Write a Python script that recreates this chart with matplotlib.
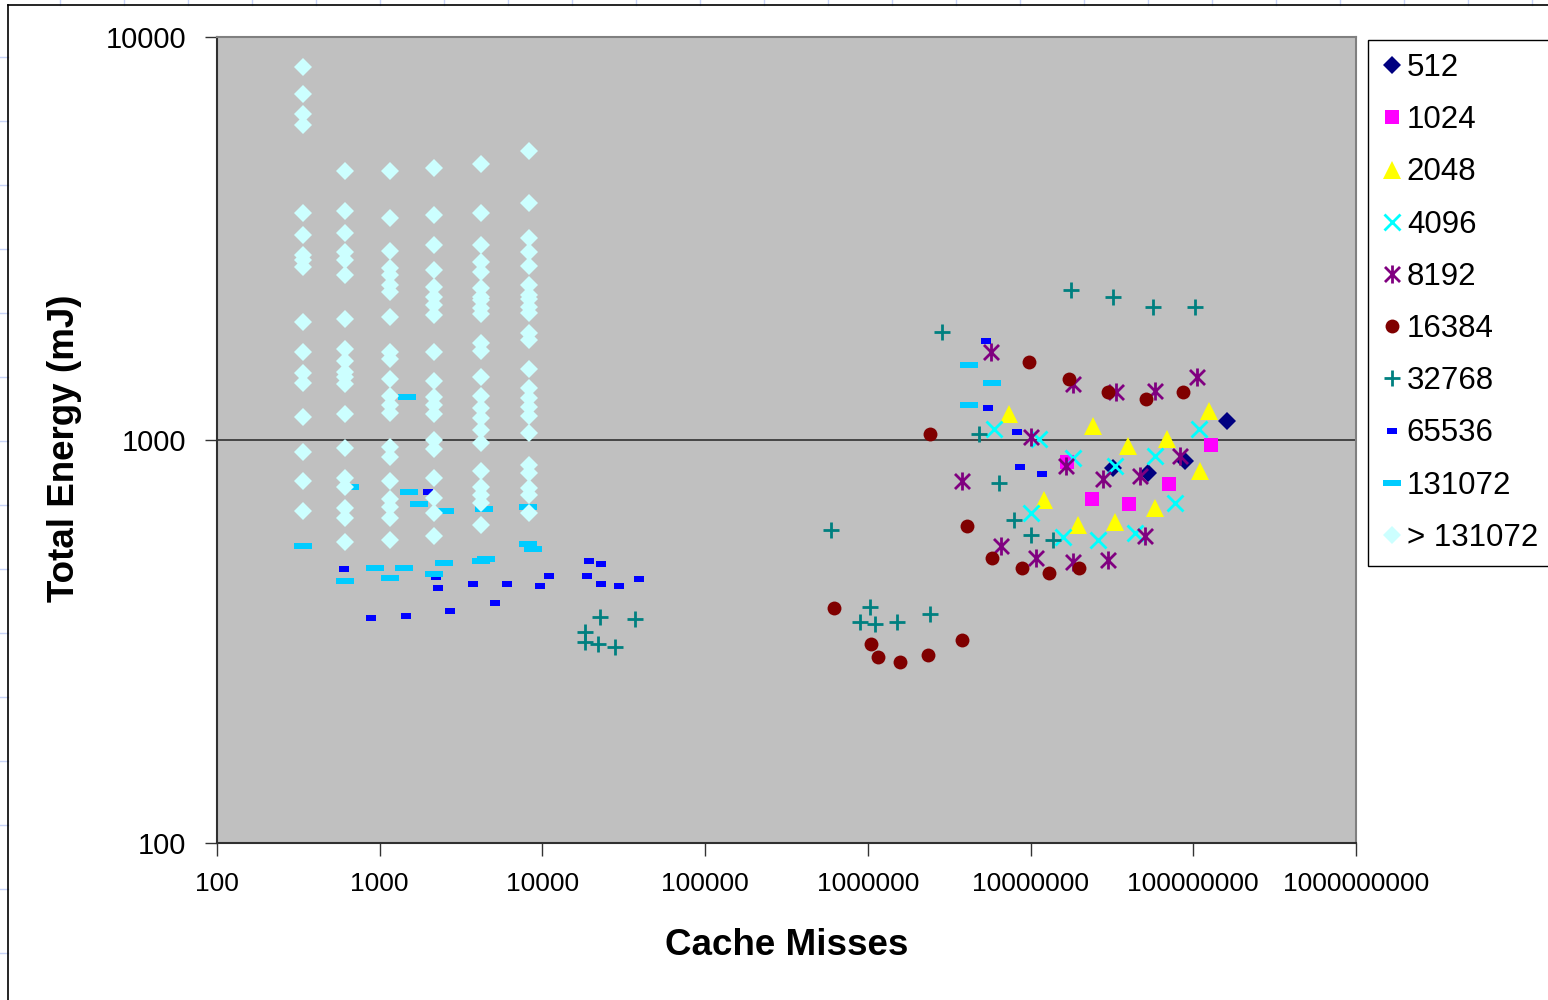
import matplotlib
matplotlib.use('Agg')
import matplotlib.pyplot as plt
from matplotlib.path import Path
from matplotlib.lines import Line2D
from matplotlib.ticker import FixedLocator, FixedFormatter, NullLocator

plt.rcParams['font.family'] = ['Liberation Sans', 'DejaVu Sans']

# ---- data (cache misses, total energy in mJ) ----
x_512 = [3.21e7, 5.27e7, 8.9e7, 1.61e8]
y_512 = [852, 828, 887, 1115]

x_1024 = [1.68e7, 2.39e7, 4.03e7, 7.1e7, 1.29e8]
y_1024 = [881, 714, 694, 777, 972]

x_2048 = [7.38e6, 2.42e7, 3.97e7, 6.9e7, 1.25e8, 1.10e8, 1.21e7, 1.96e7, 3.3e7, 5.82e7]
y_2048 = [1160, 1083, 967, 1005, 1180, 837, 710, 615, 626, 678]

x_4096 = [5.97e6, 1.13e7, 1.82e7, 3.3e7, 5.82e7, 1.09e8, 1.01e7, 1.59e7, 2.6e7, 4.39e7, 7.73e7]
y_4096 = [1065, 1005, 902, 861, 912, 1065, 659, 574, 565, 588, 698]

x_8192 = [5.72e6, 1.82e7, 3.36e7, 5.82e7, 1.06e8, 1.01e7, 1.65e7, 2.79e7, 4.71e7, 8.3e7,
          3.79e6, 6.59e6, 1.08e7, 1.82e7, 2.99e7, 5.05e7]
y_8192 = [1653, 1377, 1315, 1324, 1433, 1017, 861, 800, 814, 912,
          791, 546, 510, 498, 504, 578]

x_16384 = [9.79e6, 1.73e7, 2.99e7, 5.12e7, 8.65e7, 2.41e6, 4.07e6, 5.8e6, 8.87e6, 1.3e7,
           1.99e7, 6.2e5, 1.05e6, 1.16e6, 1.58e6, 2.34e6, 3.79e6]
y_16384 = [1562, 1416, 1315, 1265, 1315, 1035, 612, 510, 481, 468,
           481, 383, 312, 290, 281, 293, 319]

x_32768 = [18300, 18300, 22600, 22000, 27900, 37100,
           1.77e7, 3.21e7, 5.66e7, 1.03e8, 2.86e6, 4.82e6, 6.4e6, 5.94e5, 7.92e6,
           1.01e7, 1.38e7, 1.03e6, 8.96e5, 1.11e6, 1.51e6, 2.41e6]
y_32768 = [334, 315, 364, 312, 306, 359,
           2356, 2265, 2138, 2138, 1853, 1035, 782, 598, 633,
           581, 565, 385, 353, 349, 353, 370]

x_65536 = [604, 1982, 2218, 2282, 884, 1452, 2703, 3744, 6058, 9667, 10980, 5112,
           19330, 22910, 18800, 22910, 29570, 39250,
           5.32e6, 5.48e6, 8.26e6, 8.62e6, 1.18e7]
y_65536 = [478, 743, 457, 430, 362, 366, 376, 439, 439, 435, 460, 394,
           501, 492, 460, 439, 435, 452,
           1761, 1200, 1047, 857, 823]

x_131072 = [338, 657, 1472, 1514, 1744, 2520, 4377, 8150, 8150, 8754,
            612, 935, 1157, 1410, 2157, 2485, 4198, 4500,
            4.19e6, 5.8e6, 4.19e6]
y_131072 = [546, 764, 1278, 743, 694, 667, 674, 682, 552, 537,
            447, 481, 455, 481, 465, 495, 501, 507,
            1535, 1384, 1221]

# > 131072: points sit in six columns of cache misses
big_cols = [338, 612, 1157, 2157, 4198, 8276]
big_y = [
    [8430, 7225, 6440, 6050, 3660, 3227, 2877, 2798, 2687, 1962, 1653, 1465, 1384,
     1140, 933, 791, 667],
    [4645, 3700, 3263, 2926, 2798, 2565, 1995, 1682, 1571, 1476, 1433, 1377, 1159,
     955, 805, 764, 678, 640, 558],
    [4645, 3556, 2944, 2672, 2565, 2427, 2330, 2018, 1653, 1589, 1416, 1285, 1221,
     1167, 961, 908, 791, 714, 682, 640, 565],
    [4730, 3615, 3050, 2643, 2400, 2265, 2163, 2043, 1653, 1400, 1278, 1221, 1159,
     1000, 950, 805, 718, 659, 578],
    [4840, 3660, 3050, 2767, 2612, 2385, 2265, 2222, 2126, 2054, 1741, 1664, 1433,
     1285, 1200, 1134, 1060, 984, 837, 764, 731, 698, 616],
    [5210, 3874, 3170, 2926, 2705, 2427, 2291, 2244, 2138, 2065, 1844, 1771, 1500,
     1346, 1270, 1208, 1148, 1040, 866, 828, 760, 731, 659],
]
x_big = [c for c, ys in zip(big_cols, big_y) for _ in ys]
y_big = [v for ys in big_y for v in ys]

labels = ['512', '1024', '2048', '4096', '8192', '16384', '32768', '65536', '131072', '> 131072']
xs = [x_512, x_1024, x_2048, x_4096, x_8192, x_16384, x_32768, x_65536, x_131072, x_big]
ys = [y_512, y_1024, y_2048, y_4096, y_8192, y_16384, y_32768, y_65536, y_131072, y_big]

x_ticks = [100, 1000, 10000, 100000, 1000000, 10000000, 100000000, 1000000000]
y_ticks = [100, 1000, 10000]

# ---- marker styles (Excel-like) ----
asterisk = Path([(-1, -1), (1, 1), (-1, 1), (1, -1), (0, -1.2), (0, 1.2)],
                [Path.MOVETO, Path.LINETO] * 3)
dash_small = [(-1, -0.5), (1, -0.5), (1, 0.5), (-1, 0.5)]
dash_long = [(-1, -0.3), (1, -0.3), (1, 0.3), (-1, 0.3)]

styles = [
    dict(marker='D', ms=9, color='#000080', mec='#000080', mew=0),
    dict(marker='s', ms=10.5, color='#FF00FF', mec='#FF00FF', mew=0),
    dict(marker='^', ms=13, color='#FFFF00', mec='#FFFF00', mew=0),
    dict(marker='x', ms=11, color='#00FFFF', mew=2),
    dict(marker=asterisk, ms=13, color='#800080', mfc='none', mew=2),
    dict(marker='o', ms=10, color='#800000', mec='#800000', mew=0),
    dict(marker='+', ms=11, color='#008080', mew=2),
    dict(marker=dash_small, ms=7.5, color='#0000FF', mec='#0000FF', mew=0),
    dict(marker=dash_long, ms=12.5, color='#00CCFF', mec='#00CCFF', mew=0),
    dict(marker='D', ms=9, color='#CCFFFF', mec='#CCFFFF', mew=0),
]

fig = plt.figure(figsize=(15.48, 10), dpi=100)
ax = fig.add_axes([217 / 1548, 1 - 843 / 1000, (1356 - 217) / 1548, (843 - 37) / 1000])
ax.set_facecolor('#C0C0C0')

for x, y, lab, st in zip(xs, ys, labels, styles):
    ax.plot(x, y, linestyle='none', label=lab, **st)

ax.set_xscale('log')
ax.set_yscale('log')
ax.set_xlim(100, 1e9)
ax.set_ylim(100, 10000)

ax.xaxis.set_major_locator(FixedLocator(x_ticks))
ax.xaxis.set_major_formatter(FixedFormatter([str(t) for t in x_ticks]))
ax.yaxis.set_major_locator(FixedLocator(y_ticks))
ax.yaxis.set_major_formatter(FixedFormatter([str(t) for t in y_ticks]))
ax.xaxis.set_minor_locator(NullLocator())
ax.yaxis.set_minor_locator(NullLocator())

ax.tick_params(axis='x', direction='out', length=9, width=1, labelsize=19, pad=12, color='#333333')
ax.tick_params(axis='y', direction='out', length=9, width=1, labelsize=21, pad=13, color='#333333')

ax.set_axisbelow(True)
ax.yaxis.grid(True, color='#303030', linewidth=1.2)
ax.xaxis.grid(False)

for side in ['left', 'bottom']:
    ax.spines[side].set_color('#303030')
    ax.spines[side].set_linewidth(1.5)
for side in ['top', 'right']:
    ax.spines[side].set_color('#808080')
    ax.spines[side].set_linewidth(1.5)

ax.set_xlabel('Cache Misses', fontsize=26.5, fontweight='bold')
ax.set_ylabel('Total Energy (mJ)', fontsize=26.5, fontweight='bold')
ax.xaxis.label.set_va('center')
ax.yaxis.label.set_va('center')
ax.xaxis.set_label_coords(0.5, -0.127)
ax.yaxis.set_label_coords(-0.134, 0.49)

leg = fig.legend(loc='upper left', bbox_to_anchor=(1368 / 1548, 1 - 40 / 1000),
                 bbox_transform=fig.transFigure, frameon=True, fancybox=False,
                 fontsize=22.5, numpoints=1, borderaxespad=0, borderpad=0.42,
                 handlelength=0.7, handletextpad=0.12, labelspacing=0.71)
leg.get_frame().set_edgecolor('black')
leg.get_frame().set_linewidth(1)
leg.get_frame().set_alpha(1)

# outer chart frame and worksheet gridlines
for gx in range(60, 1548, 64):
    fig.add_artist(Line2D([gx / 1548, gx / 1548], [0.995, 1.0], color='#C8D4F8', lw=1))
for gy in range(57, 1000, 64):
    fig.add_artist(Line2D([0, 8 / 1548], [1 - gy / 1000, 1 - gy / 1000], color='#C8D4F8', lw=1))
fig.add_artist(Line2D([8 / 1548, 8 / 1548], [0, 0.995], color='black', lw=1.2))
fig.add_artist(Line2D([8 / 1548, 1], [0.995, 0.995], color='black', lw=1.2))

fig.savefig('out.png', dpi=100)
